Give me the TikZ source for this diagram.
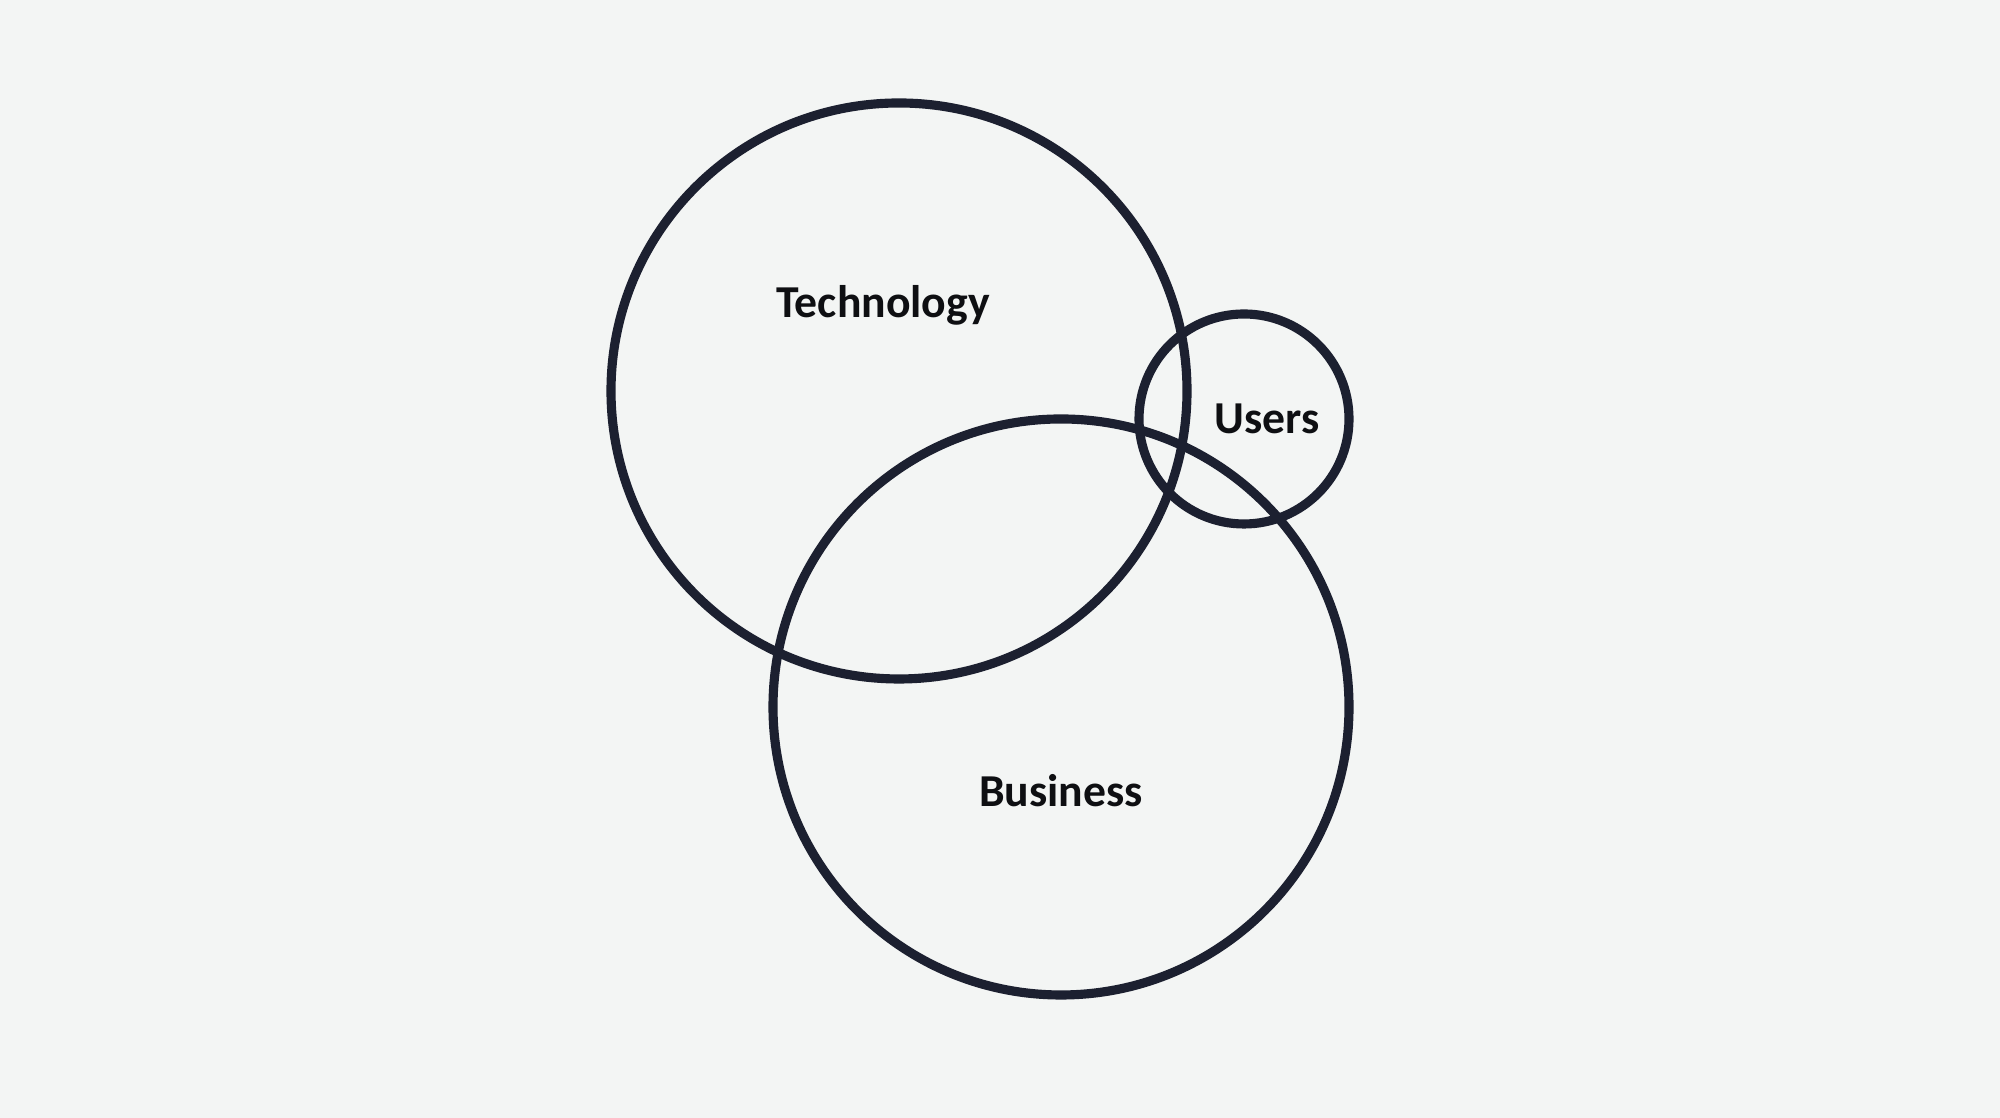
\documentclass[tikz,border=0pt]{standalone}
\usepackage{fontspec}
\setmainfont{Carlito}
\usetikzlibrary{calc}

\definecolor{bgcol}{HTML}{F3F5F4}
\definecolor{ringcol}{HTML}{1C2030}
\definecolor{textcol}{HTML}{0E0F12}

\begin{document}
\begin{tikzpicture}[
        ring/.style={circle, draw=ringcol, line width=2.6pt, inner sep=0pt},
        lbl/.style={anchor=base, text=textcol, font=\bfseries\fontsize{13}{15}\selectfont}
    ]
            \fill[bgcol] (0,0) rectangle (20,11.18);
            \useasboundingbox (0,0) rectangle (20,11.18);

            \node[ring, minimum size=5.76cm] (tech) at (8.99,7.27) {};
            \node[ring, minimum size=5.76cm] (biz) at (10.61,4.11) {};
            \node[ring, minimum size=2.10cm] (users) at (12.44,6.99) {};

            \node[lbl] (techlbl) at (8.83,8.00) {Technology};
            \node[lbl] (bizlbl) at (10.61,3.11) {Business};
            \node[lbl] (userslbl) at (12.67,6.84) {Users};
        \end{tikzpicture}
\end{document}
